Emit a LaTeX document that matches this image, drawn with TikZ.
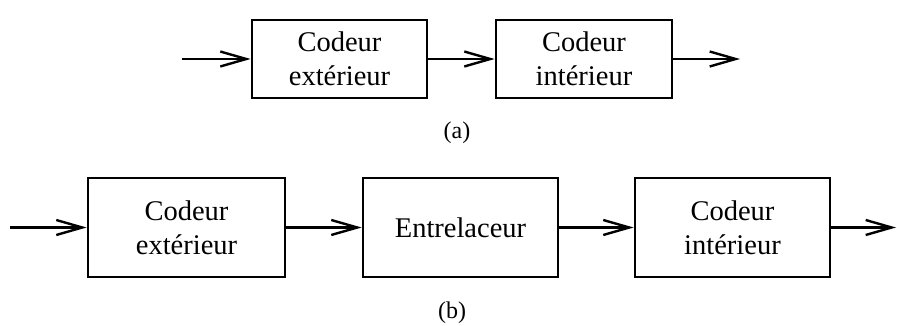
\documentclass[tikz,border=0pt]{standalone}
\usepackage{fontspec}
\setmainfont{Liberation Serif}
\usetikzlibrary{arrows.meta}
\begin{document}
\begin{tikzpicture}[x=1pt,y=-1pt,
  blk/.style={draw,line width=2.8pt,inner sep=0pt,align=center,font=\fontsize{28.5}{34}\selectfont},
  conn/.style={line width=2.8pt,-{Straight Barb[length=26pt,width=15pt,line width=2.4pt]}},
  lbl/.style={font=\fontsize{24}{28}\selectfont}]
\useasboundingbox (0,0) rectangle (897,326);
% (a)
\node[blk,minimum width=175pt,minimum height=78pt] (a1) at (339.5,59) {Codeur\\extérieur};
\node[blk,minimum width=176pt,minimum height=78pt] (a2) at (584,59) {Codeur\\intérieur};
\coordinate (ain) at (182,59);
\coordinate (aout) at (740,59);
\draw[conn] (ain) -- (a1.west);
\draw[conn] (a1.east) -- (a2.west);
\draw[conn] (a2.east) -- (aout);
\node[lbl] (la) at (457,133) {(a)};
% (b)
\node[blk,minimum width=197pt,minimum height=99pt] (b1) at (186.5,227.5) {Codeur\\extérieur};
\node[blk,minimum width=195pt,minimum height=99pt] (b2) at (460.5,227.5) {Entrelaceur};
\node[blk,minimum width=195pt,minimum height=99pt] (b3) at (732.5,227.5) {Codeur\\intérieur};
\coordinate (bin) at (10,227.5);
\coordinate (bout) at (896,227.5);
\draw[conn] (bin) -- (b1.west);
\draw[conn] (b1.east) -- (b2.west);
\draw[conn] (b2.east) -- (b3.west);
\draw[conn] (b3.east) -- (bout);
\node[lbl] (lb) at (452,313) {(b)};
\end{tikzpicture}
\end{document}
